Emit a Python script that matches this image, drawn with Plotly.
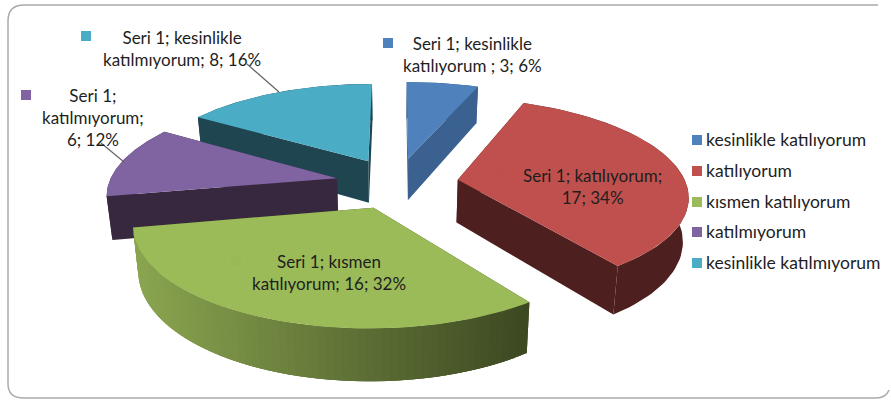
import numpy as np
import plotly.graph_objects as go

categories = ["kesinlikle katılıyorum", "katılıyorum", "kısmen katılıyorum", "katılmıyorum", "kesinlikle katılmıyorum"]
values = [3, 17, 16, 6, 8]
percents = ["6%", "34%", "32%", "12%", "16%"]
label_text = [
    "Seri 1; kesinlikle<br>katılıyorum ; 3; 6%",
    "Seri 1; katılıyorum;<br>17; 34%",
    "Seri 1; kısmen<br>katılıyorum; 16; 32%",
    "Seri 1;<br>katılmıyorum;<br>6; 12%",
    "Seri 1; kesinlikle<br>katılmıyorum; 8; 16%",
]
top_colors = ["#4F81BD", "#C0504D", "#9BBB59", "#8064A2", "#4BACC6"]
side_colors = ["#3A618F", "#4D1F1E", "#3E4A23", "#37273F", "#1F4550"]
label_pos = [(472, 54), (592, 186), (329, 272), (93, 117), (182, 48)]
key_pos = [(388, 43), (503, 175), (236, 261), (26, 95), (86, 36)]
key_colors = ["#4F81BD", "#BE4F4C", "#99B958", "#8064A2", "#4BACC6"]
legend_y = [140, 171, 202, 232, 263]
leaders = [((247, 64), (279, 92)), ((101, 143), (124, 162))]
paint_order = [0, 4, 3, 1, 2]

CX, CY = 397, 183
R, Q, KX, KY, PULL, DEPTH = 228, 94.8, 0.15, 0.148, 0.27, 43
FONT = "Lato"
SIZE = 17


def project(X, Y, bottom=False):
    X, Y = np.asarray(X, float), np.asarray(Y, float)
    x = R * X / (1 + KX * Y)
    y = -Q * Y / (1 + KY * Y)
    if bottom:
        return CX + x * 0.98, CY + y + DEPTH / (1 + KY * Y)
    return CX + x, CY + y


def poly(fig, xs, ys, color):
    fig.add_trace(go.Scatter(
        x=list(xs), y=list(ys), mode="lines", fill="toself", fillcolor=color,
        line=dict(color=color, width=0), hoverinfo="skip", showlegend=False))


def hex2rgb(h):
    return np.array([int(h[i:i + 2], 16) for i in (1, 3, 5)], float)


fig = go.Figure()
total = sum(values)
edges = np.cumsum([0] + values) / total * 2 * np.pi
GRAD_L, GRAD_R = hex2rgb("#8CA751"), hex2rgb("#3D4922")

for i in paint_order:
    a0, a1 = edges[i], edges[i + 1]
    mid = (a0 + a1) / 2
    ox, oy = PULL * np.sin(mid), PULL * np.cos(mid)
    th = np.linspace(a0, a1, 70)
    X, Y = ox + np.sin(th), oy + np.cos(th)
    tx, ty = project(X, Y)
    bx, by = project(X, Y, True)
    ax, ay = project(ox, oy)
    abx, aby = project(ox, oy, True)
    for k in (0, -1):
        poly(fig, [ax, tx[k], bx[k], abx, ax], [ay, ty[k], by[k], aby, ay], side_colors[i])
    if i == 2:
        n = len(th)
        for k in range(n - 1):
            e = min(k + 3, n - 1)
            t = np.clip((tx[k] - 130) / (530 - 130), 0, 1)
            c = GRAD_L + (GRAD_R - GRAD_L) * t
            col = "rgb(%d,%d,%d)" % tuple(c)
            seg = np.arange(k, e + 1)
            poly(fig, list(tx[seg]) + list(bx[seg][::-1]) + [tx[k]],
                 list(ty[seg]) + list(by[seg][::-1]) + [ty[k]], col)
    else:
        poly(fig, list(tx) + list(bx[::-1]) + [tx[0]], list(ty) + list(by[::-1]) + [ty[0]], side_colors[i])
    poly(fig, [ax] + list(tx) + [ax], [ay] + list(ty) + [ay], top_colors[i])

for (p, q) in leaders:
    fig.add_trace(go.Scatter(x=[p[0], q[0]], y=[p[1], q[1]], mode="lines",
                             line=dict(color="#666666", width=1.2), hoverinfo="skip", showlegend=False))

fig.add_trace(go.Scatter(
    x=[p[0] for p in key_pos], y=[p[1] for p in key_pos], mode="markers",
    marker=dict(symbol="square", size=10, color=key_colors), hoverinfo="skip", showlegend=False))

fig.add_trace(go.Scatter(
    x=[697] * len(categories), y=legend_y, mode="markers",
    marker=dict(symbol="square", size=10, color=top_colors), hoverinfo="skip", showlegend=False))
fig.add_trace(go.Scatter(
    x=[706] * len(categories), y=[v + 2 for v in legend_y], mode="text", text=categories,
    textposition="middle right", textfont=dict(family=FONT, size=17.5, color="#1E1E1E"),
    hoverinfo="skip", showlegend=False))

for i, txt in enumerate(label_text):
    fig.add_annotation(x=label_pos[i][0], y=label_pos[i][1], text=txt, showarrow=False,
                       xanchor="center", yanchor="middle", align="center",
                       font=dict(family=FONT, size=SIZE, color="#1E1E1E"))

fig.add_shape(type="path", layer="below",
              path="M 878 5 L 24 5 Q 8 5 8 21 L 8 384 Q 8 398 24 398 L 876 398 Q 886 398 889 390",
              line=dict(color="#ABABAB", width=1.5))

fig.update_layout(
    width=891, height=400, autosize=False, showlegend=False,
    margin=dict(l=0, r=0, t=0, b=0),
    paper_bgcolor="white", plot_bgcolor="white",
    xaxis=dict(range=[0, 891], visible=False, fixedrange=True),
    yaxis=dict(range=[400, 0], visible=False, fixedrange=True),
)
fig.write_html("out.html", post_script="document.body.style.margin='0';document.body.style.overflow='hidden';",
               config={"displayModeBar": False})
